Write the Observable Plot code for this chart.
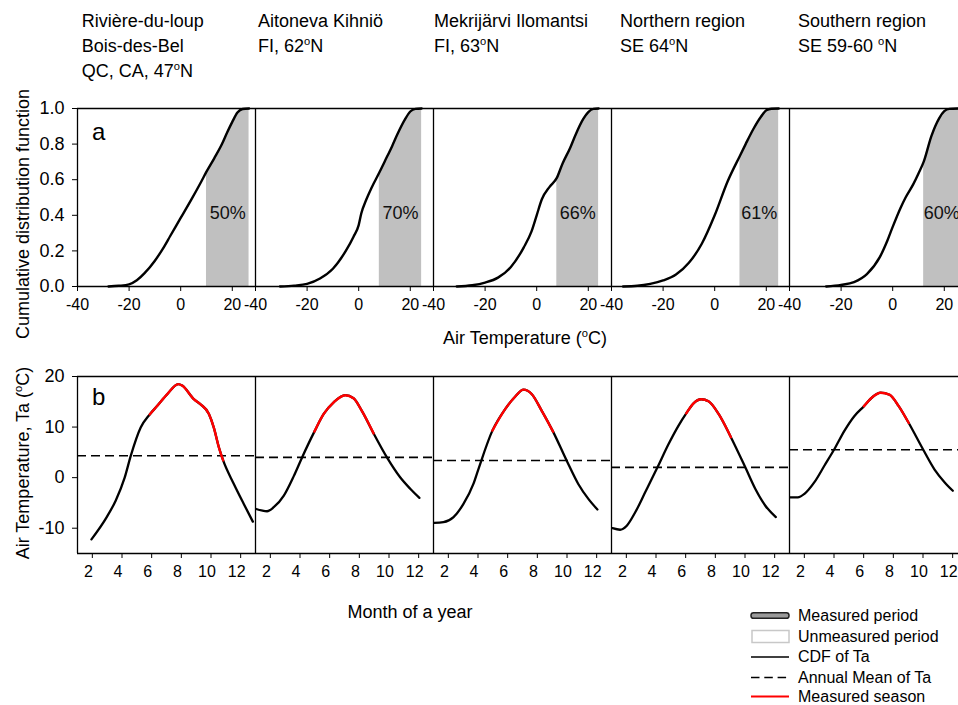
<!DOCTYPE html>
<html><head><meta charset="utf-8">
<script src="https://cdn.jsdelivr.net/npm/d3@7"></script>
<script src="https://cdn.jsdelivr.net/npm/@observablehq/plot@0.6"></script>
<style>
html,body{margin:0;padding:0;background:#fff;overflow:hidden}
#fig{position:relative;width:958px;height:705px;overflow:hidden;background:#fff}
#fig svg{position:absolute}
</style></head><body><div id="fig"></div>
<script>
// ---------------- DATA ----------------
const sites = ["Rivière-du-loup", "Aitoneva Kihniö", "Mekrijärvi Ilomantsi", "Northern region", "Southern region"];
const siteTitles = [
  ["Rivière-du-loup", "Bois-des-Bel", "QC, CA, 47°N"],
  ["Aitoneva Kihniö", "FI, 62°N"],
  ["Mekrijärvi Ilomantsi", "FI, 63°N"],
  ["Northern region", "SE 64°N"],
  ["Southern region", "SE 59-60 °N"]
];

// (a) cumulative distribution function of air temperature
const cdfTemps = [
  [-28, -24, -20, -17, -14, -10, -7, -4, 0, 4, 8, 10, 13, 16, 18, 20, 22, 24, 26.5],
  [-30.5, -25, -20, -15, -10, -5, -2, 0, 1, 3, 5, 8, 10, 13, 15, 18, 20, 22, 24.4],
  [-31, -25, -20, -15, -10, -5, -2, 0, 2, 5, 7.8, 10, 13, 15, 18, 20, 22, 24],
  [-35.5, -30, -25, -20, -15, -10, -5, 0, 5, 9.8, 12, 15, 18, 20, 22, 24.8],
  [-25.8, -20, -15, -10, -5, -2, 0, 3, 5, 8, 10, 12, 15, 18, 20, 22, 26]
];
const cdfValues = [
  [0, 0.004, 0.012, 0.035, 0.075, 0.145, 0.21, 0.285, 0.385, 0.485, 0.59, 0.645, 0.72, 0.80, 0.865, 0.925, 0.977, 0.997, 1],
  [0, 0.005, 0.015, 0.045, 0.10, 0.20, 0.28, 0.345, 0.41, 0.49, 0.555, 0.64, 0.70, 0.79, 0.855, 0.94, 0.983, 0.998, 1],
  [0, 0.007, 0.022, 0.05, 0.11, 0.22, 0.31, 0.40, 0.49, 0.56, 0.61, 0.69, 0.78, 0.85, 0.94, 0.98, 0.998, 1],
  [0, 0.004, 0.015, 0.034, 0.067, 0.133, 0.24, 0.40, 0.59, 0.735, 0.80, 0.885, 0.955, 0.99, 0.999, 1],
  [0, 0.009, 0.025, 0.07, 0.165, 0.26, 0.335, 0.44, 0.50, 0.575, 0.635, 0.70, 0.845, 0.945, 0.985, 0.998, 1]
];
const measuredFrom = [10, 8, 7.8, 9.8, 12];      // °C, start of measured period
const measuredTo = [26.5, 24.4, 24, 24.8, 26];   // °C, end of measured period
const measuredShare = ["50%", "70%", "66%", "61%", "60%"];

// (b) seasonal course of air temperature
const taMonths = [
  [1.94, 2.97, 3.58, 4.18, 4.59, 5.26, 5.87, 6.38, 7.05, 7.79, 8.06, 8.85, 9.3, 9.86, 10.19, 10.53, 10.82, 11.54, 12.21, 12.82],
  [1.04, 1.78, 2.23, 2.91, 3.58, 4.14, 4.97, 5.6, 6.27, 7.05, 7.61, 8.17, 8.96, 9.86, 10.75, 11.43, 12.05],
  [1.04, 1.67, 2.35, 3.02, 3.69, 4.03, 4.97, 5.83, 6.5, 7.07, 7.63, 8.3, 9.06, 9.98, 10.76, 11.44, 12.05],
  [1.07, 1.58, 2.03, 2.6, 3.27, 4.1, 4.84, 5.52, 6.04, 6.53, 7.05, 7.54, 8.22, 9.05, 10.02, 10.69, 11.36, 12.08],
  [1.04, 1.56, 2.01, 2.68, 3.36, 4.03, 4.71, 5.38, 6.01, 6.62, 7.14, 7.74, 8.35, 9.04, 9.99, 10.78, 11.45, 12.01]
];
const taValues = [
  [-12.2, -7.8, -4.5, 0, 4.3, 9.9, 12.5, 14.2, 16.5, 18.5, 18.2, 15.5, 14.5, 12.6, 9.9, 6.0, 3.4, -1.25, -5.2, -8.7],
  [-6.2, -6.65, -5.85, -3.55, 0.3, 4.0, 9.1, 12.6, 14.9, 16.3, 15.7, 13.2, 8.75, 4.0, 0.07, -2.2, -4.0],
  [-8.95, -8.8, -7.8, -5.2, -1.25, 1.7, 9.3, 13.55, 16.0, 17.4, 16.5, 13.2, 9.1, 3.35, -1.25, -4.2, -6.3],
  [-10.0, -10.3, -9.5, -6.85, -2.9, 2.04, 6.6, 10.3, 12.7, 14.7, 15.5, 15.1, 12.6, 8.0, 2.04, -2.2, -5.5, -7.8],
  [-3.9, -3.9, -3.2, -0.9, 2.4, 5.66, 9.3, 12.2, 14.1, 16.0, 16.8, 16.4, 14.2, 10.8, 5.66, 1.6, -0.9, -2.6]
];
const seasonFrom = [5.87, 4.97, 4.97, 6.04, 6.01];  // month
const seasonTo = [10.82, 8.96, 9.06, 9.05, 9.04];   // month
const annualMean = [4.34, 4.0, 3.4, 2.04, 5.53];    // °C

const cdfTicks = [-40, -20, 0, 20];
const cdfYTicks = [0, 0.2, 0.4, 0.6, 0.8, 1.0];
const monthTicks = [2, 4, 6, 8, 10, 12];
const taYTicks = [-10, 0, 10, 20];

// ---------------- TABLES ----------------
const cdfRows = sites.flatMap((s, i) => cdfTemps[i].map((t, j) => ({site: s, t, p: cdfValues[i][j]})));
const shadeRows = sites.flatMap((s, i) => cdfTemps[i].map((t, j) => ({site: s, t, p: cdfValues[i][j]}))
  .filter(d => d.t >= measuredFrom[i] && d.t <= measuredTo[i]));
const shareRows = sites.map((s, i) => ({site: s, t: (measuredFrom[i] + measuredTo[i]) / 2, p: 0.41, label: measuredShare[i]}));
const taRows = sites.flatMap((s, i) => taMonths[i].map((m, j) => ({site: s, m, ta: taValues[i][j]})));
const seasonRows = sites.flatMap((s, i) => taMonths[i].map((m, j) => ({site: s, m, ta: taValues[i][j]}))
  .filter(d => d.m >= seasonFrom[i] && d.m <= seasonTo[i]));
const meanRows = sites.map((s, i) => ({site: s, v: annualMean[i]}));

// ---------------- LAYOUT ----------------
const FONT = "'Liberation Sans', Arial, Helvetica, sans-serif";
const left = 77, panelW = 178, plotW = left + panelW * 5;
const fig = document.getElementById("fig");
const baseStyle = {fontFamily: FONT, fontSize: "16px", color: "#000", background: "transparent", maxWidth: "none", overflow: "visible"};

const plotA = Plot.plot({
  width: plotW, height: 228,
  marginLeft: left, marginRight: 0, marginTop: 10, marginBottom: 40,
  style: baseStyle,
  fx: {domain: sites, padding: 0, axis: null, label: null},
  x: {domain: [-40, 29]},
  y: {domain: [0, 1]},
  marks: [
    Plot.areaY(shadeRows, {x: "t", y: "p", fx: "site", fill: "#c0c0c0", curve: "monotone-x"}),
    Plot.lineY(cdfRows, {x: "t", y: "p", fx: "site", stroke: "#000", strokeWidth: 2.4, curve: "monotone-x"}),
    Plot.text(shareRows, {x: "t", y: "p", fx: "site", text: "label", fontSize: 18, fill: "#111"}),
    Plot.ruleY([0, 1], {stroke: "#000", strokeWidth: 1.3}),
    Plot.ruleX([-40], {stroke: "#000", strokeWidth: 1.3}),
    Plot.axisX({ticks: cdfTicks, tickSize: 5, tickPadding: 7, tickFormat: d => String(d), fontSize: 16, label: null}),
    Plot.axisY({ticks: cdfYTicks, tickSize: 5, tickPadding: 8, tickFormat: d3.format(".1f"), fontSize: 18, label: null})
  ]
});
plotA.style.left = "0px"; plotA.style.top = "98px";
fig.appendChild(plotA);

const plotB = Plot.plot({
  width: plotW, height: 227,
  marginLeft: left, marginRight: 0, marginTop: 10, marginBottom: 40,
  style: baseStyle,
  fx: {domain: sites, padding: 0, axis: null, label: null},
  x: {domain: [1, 13]},
  y: {domain: [-15, 20]},
  marks: [
    Plot.ruleY(meanRows, {y: "v", fx: "site", stroke: "#000", strokeWidth: 1.6, strokeDasharray: "9,5"}),
    Plot.lineY(taRows, {x: "m", y: "ta", fx: "site", stroke: "#000", strokeWidth: 2.3, curve: "monotone-x"}),
    Plot.lineY(seasonRows, {x: "m", y: "ta", fx: "site", stroke: "#ff0000", strokeWidth: 2.4, curve: "monotone-x"}),
    Plot.ruleY([-15, 20], {stroke: "#000", strokeWidth: 1.3}),
    Plot.ruleX([1], {stroke: "#000", strokeWidth: 1.3}),
    Plot.axisX({ticks: monthTicks, tickSize: 5, tickFormat: () => "", label: null}),
    Plot.axisX({ticks: monthTicks, tickSize: 0, tickPadding: 12, dx: -4, tickFormat: d => String(d), fontSize: 16, label: null}),
    Plot.axisY({ticks: taYTicks, tickSize: 5, tickPadding: 8, tickFormat: d => String(d), fontSize: 18, label: null})
  ]
});
plotB.style.left = "0px"; plotB.style.top = "366px";
fig.appendChild(plotB);

// ---------------- TEXT OVERLAY & LEGEND ----------------
const ov = d3.select(fig).append("svg")
  .attr("width", 958).attr("height", 705)
  .style("left", "0px").style("top", "0px")
  .style("font-family", FONT).style("pointer-events", "none");

function degText(sel, str, size) {
  // renders "°" as a raised small "o"
  const parts = str.split("°");
  parts.forEach((p, k) => {
    if (k > 0) {
      sel.append("tspan").attr("font-size", size * 0.62).attr("dy", -size * 0.38).text("o");
      sel.append("tspan").attr("font-size", size).attr("dy", size * 0.38).text(p);
    } else {
      sel.append("tspan").text(p);
    }
  });
  return sel;
}

const titleX = [81.7, 258, 434, 620, 798];
siteTitles.forEach((lines, i) => {
  lines.forEach((ln, k) => {
    const t = ov.append("text").attr("x", titleX[i]).attr("y", 27 + k * 25).attr("font-size", 18).attr("fill", "#000");
    degText(t, ln, 18);
  });
});

ov.append("text").attr("x", 92).attr("y", 140).attr("font-size", 24).text("a");
ov.append("text").attr("x", 92).attr("y", 405).attr("font-size", 24).text("b");

degText(ov.append("text").attr("x", 525).attr("y", 344).attr("font-size", 18).attr("text-anchor", "middle"), "Air Temperature (°C)", 18);
ov.append("text").attr("x", 410).attr("y", 618).attr("font-size", 18).attr("text-anchor", "middle").text("Month of a year");

ov.append("text").attr("transform", "translate(29,214) rotate(-90)").attr("font-size", 18).attr("text-anchor", "middle").text("Cumulative distribution function");
degText(ov.append("text").attr("transform", "translate(29,463) rotate(-90)").attr("font-size", 18).attr("text-anchor", "middle"), "Air Temperature, Ta (°C)", 18);

// legend
const legendLabels = ["Measured period", "Unmeasured period", "CDF of Ta", "Annual Mean of Ta", "Measured season"];
const rowY = [615.5, 636.5, 657, 677.5, 696.5];
const lx0 = 751, lx1 = 789;
ov.append("rect").attr("x", lx0).attr("y", rowY[0] - 2.8).attr("width", lx1 - lx0).attr("height", 5.6).attr("rx", 2.6)
  .attr("fill", "#9a9a9a").attr("stroke", "#222").attr("stroke-width", 1.5);
ov.append("rect").attr("x", lx0 + 1).attr("y", rowY[1] - 6).attr("width", lx1 - lx0 - 1).attr("height", 12)
  .attr("fill", "#fff").attr("stroke", "#c8c8c8").attr("stroke-width", 1.5);
ov.append("line").attr("x1", lx0).attr("x2", lx1).attr("y1", rowY[2]).attr("y2", rowY[2]).attr("stroke", "#000").attr("stroke-width", 1.6);
ov.append("line").attr("x1", lx0).attr("x2", lx1).attr("y1", rowY[3]).attr("y2", rowY[3]).attr("stroke", "#000").attr("stroke-width", 1.6).attr("stroke-dasharray", "8.5,4.8");
ov.append("line").attr("x1", lx0).attr("x2", lx1).attr("y1", rowY[4]).attr("y2", rowY[4]).attr("stroke", "#ff0000").attr("stroke-width", 2);
legendLabels.forEach((lab, i) => {
  ov.append("text").attr("x", 798).attr("y", rowY[i] + 5.2).attr("font-size", 16).attr("fill", "#000").text(lab);
});
</script>
</body></html>
